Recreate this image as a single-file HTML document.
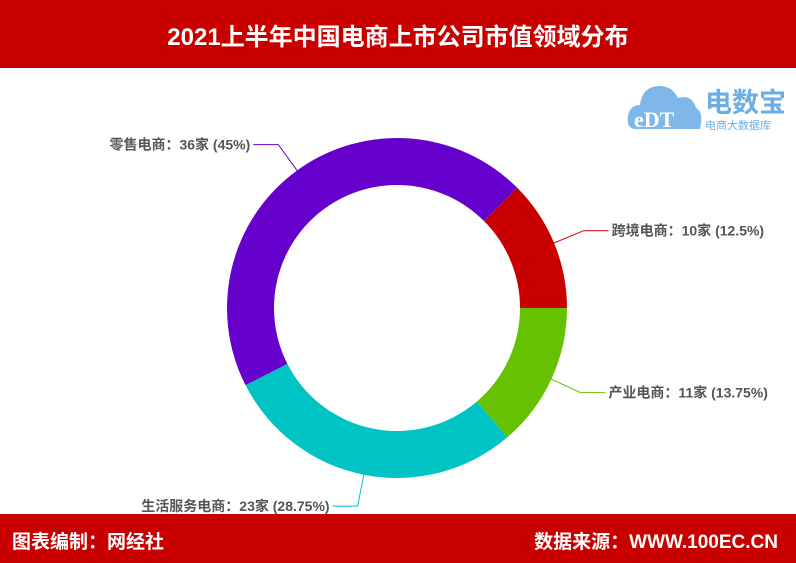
<!DOCTYPE html>
<html><head><meta charset="utf-8"><style>
body{margin:0;width:796px;height:563px;overflow:hidden;background:#fff;font-family:"Liberation Sans","Noto Sans CJK SC",sans-serif}
.bar{position:absolute;left:0;width:796px;background:#c80000;color:#fff;font-weight:bold}
</style></head><body>
<div class="bar" style="top:0;height:68px;">
<div style="position:absolute;left:0;width:796px;top:17px;text-align:center;font-size:24px;">2021上半年中国电商上市公司市值领域分布</div></div>
<div class="bar" style="top:514px;height:49px;">
<div style="position:absolute;left:12px;top:13px;font-size:19px;">图表编制：网经社</div>
<div style="position:absolute;right:18px;top:13px;font-size:19px;">数据来源：WWW.100EC.CN</div></div>
<div style="position:absolute;left:626px;top:72px;width:170px;height:62px;">
<svg width="170" height="62"><path d="M10 57 Q0 57 2 44 Q4 33 14 33 Q16 14 34 14 Q46 14 52 26 Q66 22 70 36 Q78 40 74 57 Z" fill="#7fb8e8"/>
<text x="8" y="55" font-size="22" font-weight="bold" fill="#fff" font-family="Liberation Serif,serif">eDT</text>
<text x="79" y="40" font-size="27" font-weight="bold" fill="#6aaee6">电数宝</text>
<text x="79" y="57" font-size="11" fill="#6aaee6">电商大数据库</text></svg></div>
<svg id="chart" width="796" height="563" style="position:absolute;left:0;top:0"></svg>
<script>
const categories=["跨境电商","产业电商","生活服务电商","零售电商"];
const counts=[10,11,23,36];
const percents=["12.5%","13.75%","28.75%","45%"];
const colors=["#c80000","#66c200","#00c4c4","#6600cc"];
const cx=397,cy=308,R=170,r=123,startDeg=45;
const svg=document.getElementById('chart');const NS="http://www.w3.org/2000/svg";
const total=counts.reduce((a,b)=>a+b,0);
function pt(rad,deg){const a=(deg-90)*Math.PI/180;return [cx+rad*Math.cos(a),cy+rad*Math.sin(a)];}
let cur=startDeg;
counts.forEach((v,i)=>{
 const span=v/total*360,a0=cur,a1=cur+span;cur=a1;
 const [x0,y0]=pt(R,a0),[x1,y1]=pt(R,a1),[x2,y2]=pt(r,a1),[x3,y3]=pt(r,a0);
 const lg=span>180?1:0;
 const p=document.createElementNS(NS,'path');
 p.setAttribute('d',`M${x0} ${y0}A${R} ${R} 0 ${lg} 1 ${x1} ${y1}L${x2} ${y2}A${r} ${r} 0 ${lg} 0 ${x3} ${y3}Z`);
 p.setAttribute('fill',colors[i]);
 
 
 svg.appendChild(p);
 const mid=(a0+a1)/2;const [lx,ly]=pt(R-8,mid);const [ex,ey]=pt(R+32,mid);
 const right=Math.sin(mid*Math.PI/180)>0;const hx=ex+(right?25:-25);
 const l=document.createElementNS(NS,'polyline');
 l.setAttribute('points',`${lx},${ly} ${ex},${ey} ${hx},${ey}`);
 l.setAttribute('fill','none');l.setAttribute('stroke',colors[i]);
 
 
 svg.appendChild(l);
 const t=document.createElementNS(NS,'text');
 t.setAttribute('x',hx+(right?3:-3));t.setAttribute('y',ey+5);
 t.setAttribute('text-anchor',right?'start':'end');
 t.setAttribute('font-size','14');t.setAttribute('font-weight','bold');t.setAttribute('fill','#555');
 t.textContent=`${categories[i]}：${counts[i]}家 (${percents[i]})`;
 
 
 svg.appendChild(t);
});
</script>
</body></html>
